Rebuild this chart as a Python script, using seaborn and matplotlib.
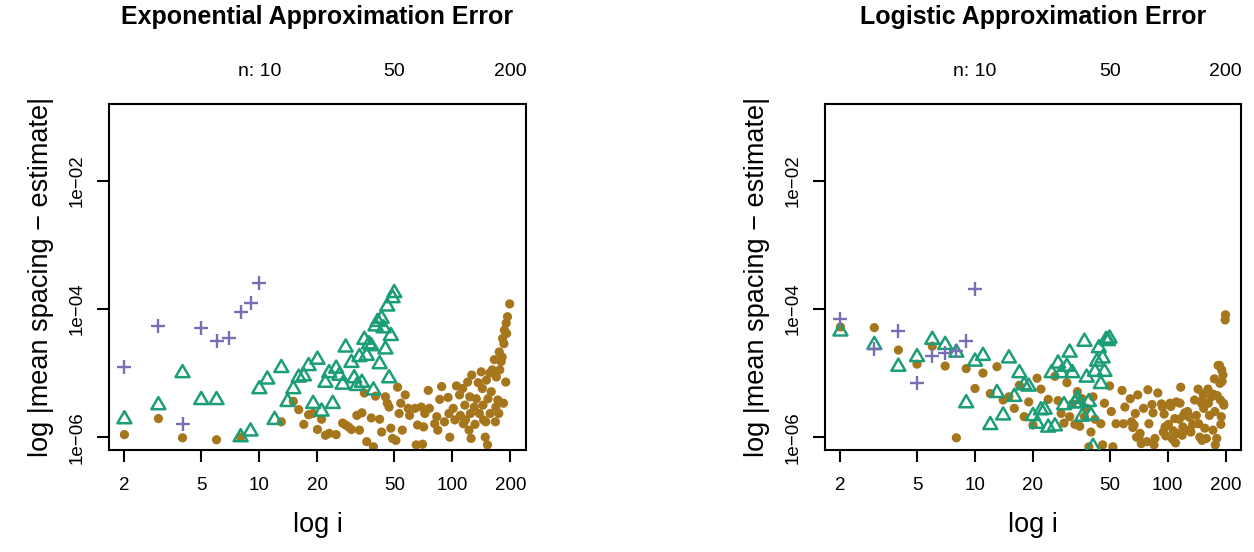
import numpy as np
import pandas as pd
import matplotlib
matplotlib.use("Agg")
import matplotlib.pyplot as plt
import seaborn as sns
from matplotlib.path import Path
from matplotlib.ticker import NullLocator

sns.set_style("white")
plt.rcParams['font.family'] = ['Liberation Sans', 'DejaVu Sans']
plt.rcParams['text.color'] = 'black'
plt.rcParams['axes.labelcolor'] = 'black'
plt.rcParams['xtick.color'] = 'black'
plt.rcParams['ytick.color'] = 'black'

# ---------------- data (log10 of |mean spacing - estimate|) ----------------
titles = ["Exponential Approximation Error", "Logistic Approximation Error"]
top_ticks = [10, 50, 200]
top_labels = ["n: 10", "50", "200"]
x_ticks = [2, 5, 10, 20, 50, 100, 200]
y_ticks = [1e-6, 1e-4, 1e-2]
y_labels = ["1e\u221206", "1e\u221204", "1e\u221202"]
x_label = "log i"
y_label = "log |mean spacing \u2212 estimate|"

exp_n10_i = [2, 3, 4, 5, 6, 7, 8, 9, 10]
exp_n10_log = [-4.90, -4.27, -5.80, -4.29, -4.50, -4.45, -4.05, -3.90, -3.60]

exp_n50_i = [2, 3, 4, 5, 6, 8, 9, 10, 11, 12, 13, 14, 15, 16, 17, 18, 19, 20, 21, 22,
             23, 24, 25, 26, 27, 28, 30, 31, 32, 33, 34, 35, 36, 37, 38, 39, 40, 41,
             42, 43, 44, 45, 46, 47, 48, 49, 50]
exp_n50_log = [-5.72, -5.50, -5.00, -5.42, -5.42, -6.00, -5.91, -5.25, -5.10, -5.73,
               -4.92, -5.45, -5.25, -5.07, -5.05, -4.89, -5.48, -4.79, -5.60, -5.15,
               -5.00, -5.48, -4.93, -5.04, -5.18, -4.60, -4.84, -5.08, -5.20, -4.75,
               -5.15, -4.48, -4.73, -4.55, -4.58, -5.27, -4.27, -4.20, -4.86, -4.15,
               -4.30, -4.63, -3.96, -5.08, -4.42, -3.83, -3.75]

exp_n200_i = [2, 3, 4, 6, 8, 13, 15, 16, 17, 18, 19, 20, 21, 22, 23, 25, 27, 28, 29, 30,
              32, 33, 34, 35, 36, 38, 39, 40, 42, 43, 45, 46, 47, 48, 49, 51, 52, 53, 54, 55,
              57, 59, 60, 64, 65, 66, 69, 70, 71, 72, 75, 76, 81, 83, 84, 86, 88, 91, 95, 96,
              97, 101, 103, 105, 109, 110, 113, 114, 116, 117, 120, 122, 123, 124, 125, 126, 130, 131, 133, 136,
              138, 141, 143, 144, 145, 148, 149, 150, 152, 153, 156, 157, 159, 161, 165, 167, 168, 169, 172, 174,
              175, 176, 179, 181, 182, 184, 185, 186, 189, 190, 191, 193, 198]
exp_n200_log = [-5.96, -5.71, -6.01, -6.04, -6.00, -5.76, -5.44, -5.57, -5.80, -5.65,
                -5.63, -5.88, -5.72, -5.97, -5.94, -5.96, -5.78, -5.81, -5.84, -5.88,
                -5.66, -5.89, -5.62, -5.31, -6.07, -5.70, -6.15, -5.36, -5.72, -5.92,
                -5.37, -5.47, -5.53, -5.86, -6.02, -6.05, -5.22, -5.63, -5.47, -5.89,
                -5.34, -5.55, -5.66, -5.55, -6.12, -5.81, -5.53, -6.11, -5.84, -5.63,
                -5.27, -5.55, -5.79, -5.68, -5.89, -5.41, -5.21, -5.76, -5.38, -5.63,
                -6.00, -5.55, -5.73, -5.20, -5.34, -5.66, -5.24, -5.79, -5.50, -5.73,
                -5.14, -5.89, -5.37, -5.63, -6.02, -5.03, -5.53, -5.80, -5.40, -5.15,
                -5.63, -4.98, -5.24, -5.50, -5.73, -6.00, -5.76, -5.11, -6.12, -5.40,
                -5.00, -5.63, -5.29, -4.95, -4.79, -5.76, -5.53, -5.06, -5.42, -5.63,
                -4.67, -4.95, -4.82, -4.75, -4.46, -5.47, -4.54, -4.33, -5.14, -4.22,
                -4.38, -4.12, -3.92]

log_n10_i = [2, 3, 4, 5, 6, 7, 8, 9, 10]
log_n10_log = [-4.15, -4.63, -4.34, -5.15, -4.73, -4.68, -4.66, -4.50, -3.68]

log_n50_i = list(range(2, 51))
log_n50_log = [-4.35, -4.56, -4.90, -4.75, -4.48, -4.56, -4.68, -5.47, -4.82, -4.73,
               -5.81, -5.31, -5.66, -4.77, -5.37, -5.00, -5.19, -5.21, -5.67, -5.79,
               -5.58, -5.57, -5.85, -5.00, -5.83, -4.85, -5.00, -5.50, -4.90, -4.68,
               -5.00, -5.47, -5.40, -5.47, -5.68, -4.51, -5.07, -5.45, -5.66, -6.15,
               -4.98, -4.82, -4.61, -5.17, -4.77, -4.98, -4.48, -4.50, -4.46]

log_n200_i = [2, 3, 4, 5, 6, 7, 8, 9, 10, 11, 12, 13, 14, 15, 16, 17, 18, 19, 20, 21,
              22, 24, 26, 27, 28, 29, 30, 31, 32, 33, 34, 35, 36, 37, 38, 39, 40, 41, 42, 45,
              46, 47, 50, 51, 52, 54, 58, 59, 60, 64, 65, 66, 67, 68, 69, 70, 71, 72, 73, 75,
              78, 79, 80, 83, 84, 85, 86, 89, 93, 94, 95, 96, 97, 98, 101, 103, 104, 106, 107, 109,
              110, 111, 112, 115, 116, 117, 119, 120, 121, 123, 125, 127, 130, 131, 132, 135, 138, 141, 144, 145,
              147, 150, 151, 152, 153, 154, 156, 159, 162, 163, 165, 169, 172, 173, 175, 176, 177, 180, 181, 183,
              186, 187, 188, 189, 190, 191, 192, 194, 195, 196, 199, 200]
log_n200_log = [-4.28, -4.29, -4.64, -4.86, -4.58, -4.89, -6.01, -4.93, -5.24, -5.00,
                -5.32, -4.90, -5.42, -5.37, -5.55, -5.19, -5.68, -5.45, -5.81, -5.08,
                -5.25, -5.41, -5.05, -5.43, -5.63, -5.78, -5.15, -5.68, -5.48, -5.80,
                -5.29, -5.83, -5.40, -5.68, -5.55, -6.15, -5.92, -5.37, -5.72, -5.79,
                -6.12, -5.47, -5.20, -5.60, -6.15, -5.79, -5.27, -5.79, -5.53, -5.40,
                -5.76, -5.85, -5.81, -5.63, -6.00, -5.34, -6.00, -5.94, -6.10, -5.55,
                -6.07, -5.26, -5.79, -5.49, -5.62, -6.12, -6.02, -5.31, -5.48, -5.53,
                -5.92, -5.64, -5.84, -5.98, -5.80, -5.47, -5.52, -6.03, -5.90, -5.71,
                -6.09, -5.45, -5.94, -5.72, -5.47, -5.22, -5.97, -5.84, -5.66, -5.62,
                -5.89, -5.60, -5.69, -5.89, -5.92, -5.80, -5.42, -5.66, -5.25, -5.79,
                -6.00, -5.47, -6.05, -5.42, -5.33, -5.55, -5.86, -6.02, -5.25, -5.47,
                -5.66, -5.37, -5.89, -5.33, -5.09, -5.60, -6.12, -6.02, -5.35, -4.88,
                -4.88, -5.16, -5.42, -5.80, -5.68, -4.95, -5.13, -5.03, -5.47, -5.50,
                -4.17, -4.09]

C10, C50, C200 = "#7570B3", "#1B9E77", "#A6761D"

panels = [
    (titles[0], exp_n10_i, exp_n10_log, exp_n50_i, exp_n50_log, exp_n200_i, exp_n200_log),
    (titles[1], log_n10_i, log_n10_log, log_n50_i, log_n50_log, log_n200_i, log_n200_log),
]

tri = Path([(0, 1), (-0.866, -0.5), (0.866, -0.5), (0, 1)],
           [Path.MOVETO, Path.LINETO, Path.LINETO, Path.CLOSEPOLY])

fig = plt.figure(figsize=(12.54, 5.52), dpi=100)
rects = [[0.0869, 0.1848, 0.3325, 0.6268], [0.6579, 0.1848, 0.3317, 0.6268]]

for rect, (title, i10, l10, i50, l50, i200, l200) in zip(rects, panels):
    ax = fig.add_axes(rect)
    d200 = pd.DataFrame({"i": i200, "err": 10.0 ** np.asarray(l200)})
    d50 = pd.DataFrame({"i": i50, "err": 10.0 ** np.asarray(l50)})
    d10 = pd.DataFrame({"i": i10, "err": 10.0 ** np.asarray(l10)})
    sns.scatterplot(data=d200, x="i", y="err", ax=ax, marker="o", s=44,
                    color=C200, edgecolor="none", linewidth=0, zorder=2)
    sns.scatterplot(data=d50, x="i", y="err", ax=ax, marker=tri, s=135,
                    facecolors="none", edgecolor=C50, linewidth=1.8, zorder=3)
    sns.scatterplot(data=d10, x="i", y="err", ax=ax, marker="+", s=115,
                    color=C10, linewidth=1.7, zorder=4)

    ax.set_xscale("log")
    ax.set_yscale("log")
    lo, hi = np.log10(x_ticks[0]), np.log10(x_ticks[-1])
    p = 0.04 * (hi - lo)
    ax.set_xlim(10 ** (lo - p), 10 ** (hi + p))
    ylo, yhi = -6.0, -1.0
    q = 0.04 * (yhi - ylo)
    ax.set_ylim(10 ** (ylo - q), 10 ** (yhi + q))

    ax.set_xticks(x_ticks, labels=[str(v) for v in x_ticks])
    ax.set_yticks(y_ticks, labels=y_labels)
    ax.xaxis.set_minor_locator(NullLocator())
    ax.yaxis.set_minor_locator(NullLocator())
    ax.tick_params(axis="both", direction="out", length=8.5, width=1.5,
                   color="black", labelsize=13.5, labelcolor="black")
    ax.tick_params(axis="x", pad=11, bottom=True)
    ax.tick_params(axis="y", pad=8, left=True)
    for lbl in ax.get_yticklabels():
        lbl.set_rotation(90)
        lbl.set_va("center")
    for sp in ax.spines.values():
        sp.set_visible(True)
        sp.set_color("black")
        sp.set_linewidth(1.5)

    ax.set_xlabel(x_label, fontsize=19.5, labelpad=13, color="black")
    ax.set_ylabel(y_label, fontsize=19.5, labelpad=11, color="black")
    ax.set_title(title, fontsize=18, fontweight="bold", y=1.25, va="center",
                 pad=0, color="black")

    sec = ax.secondary_xaxis("top")
    sec.set_ticks(top_ticks, labels=top_labels)
    sec.xaxis.set_minor_locator(NullLocator())
    sec.tick_params(axis="x", length=0, pad=17, labelsize=14, labelcolor="black")
    sec.spines["top"].set_visible(False)

fig.savefig("out.png", dpi=100)
